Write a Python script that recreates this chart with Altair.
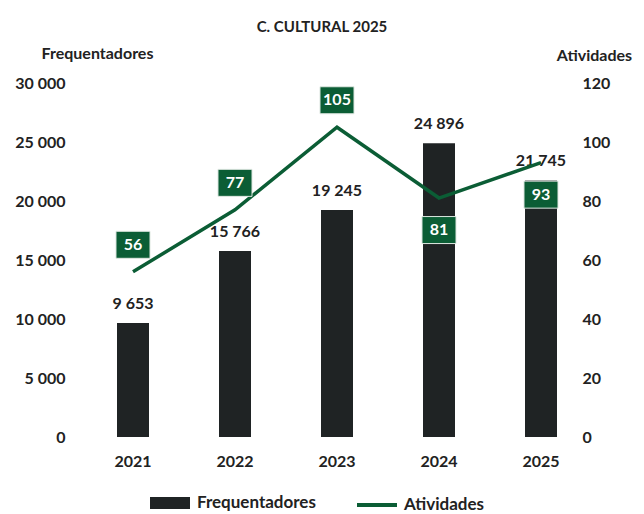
import altair as alt
import pandas as pd

anos = ["2021", "2022", "2023", "2024", "2025"]
frequentadores = [9653, 15766, 19245, 24896, 21745]
atividades = [56, 77, 105, 81, 93]

df = pd.DataFrame({"Ano": anos, "Frequentadores": frequentadores, "Atividades": atividades})

FONT = "Lato"
DARK = "#1f2324"
GREEN = "#0b5d35"
TXT = "#222222"

x = alt.X(
    "Ano:N", title=None,
    scale=alt.Scale(paddingInner=0.1),
    axis=alt.Axis(labelAngle=0, domain=False, ticks=False, labelPadding=16,
                  labelFont=FONT, labelFontSize=16, labelFontWeight="bold", labelColor=TXT),
)

yL = alt.Y(
    "Frequentadores:Q",
    scale=alt.Scale(domain=[0, 30000]),
    axis=alt.Axis(values=[0, 5000, 10000, 15000, 20000, 25000, 30000],
                  title="Frequentadores", titleAngle=0, titleX=15, titleY=-30,
                  titleAlign="center", titleBaseline="middle",
                  titleFont=FONT, titleFontSize=16, titleFontWeight="bold", titleColor=TXT,
                  grid=False, domain=False, ticks=False, labelPadding=17,
                  labelExpr="replace(format(datum.value, ',d'), ',', ' ')",
                  labelFont=FONT, labelFontSize=16, labelFontWeight="bold", labelColor=TXT),
)

yR = alt.Y(
    "Atividades:Q",
    scale=alt.Scale(domain=[0, 120]),
    axis=alt.Axis(orient="right", values=[0, 20, 40, 60, 80, 100, 120],
                  title="Atividades", titleAngle=0, titleX=2, titleY=-28,
                  titleAlign="center", titleBaseline="middle",
                  titleFont=FONT, titleFontSize=16, titleFontWeight="bold", titleColor=TXT,
                  grid=False, domain=False, ticks=False, labelPadding=-10,
                  labelFont=FONT, labelFontSize=16, labelFontWeight="bold", labelColor=TXT),
)

base = alt.Chart(df).encode(x=x)

bars = base.transform_calculate(serie="'Frequentadores'").mark_bar(size=32).encode(
    y=yL,
    color=alt.Color("serie:N", scale=alt.Scale(domain=["Frequentadores"], range=[DARK]),
                    legend=alt.Legend(orient="none", legendX=68, legendY=400, title=None,
                                      direction="horizontal", padding=0,
                                      symbolType="M-1,-0.3H1V0.3H-1Z", symbolSize=1600,
                                      symbolStrokeWidth=0, labelOffset=7,
                                      labelFont=FONT, labelFontSize=17, labelFontWeight="bold",
                                      labelColor=TXT)),
)

bar_text = base.transform_calculate(
    lbl="replace(format(datum.Frequentadores, ',d'), ',', ' ')"
).mark_text(font=FONT, fontSize=16, fontWeight="bold", color=TXT, dy=-19, baseline="middle").encode(
    y=yL, text="lbl:N"
)

left = alt.layer(bars, bar_text)

line = base.transform_calculate(serie2="'Atividades'").mark_line(strokeWidth=3.5).encode(
    y=yR,
    stroke=alt.Stroke("serie2:N", scale=alt.Scale(domain=["Atividades"], range=[GREEN]),
                      legend=alt.Legend(orient="none", legendX=273, legendY=400, title=None,
                                        direction="horizontal", padding=0,
                                        symbolType="stroke", symbolSize=1600,
                                        symbolStrokeWidth=4, labelOffset=5,
                                        labelFont=FONT, labelFontSize=17, labelFontWeight="bold",
                                        labelColor=TXT)),
)

BOX = "M-1.26,-1H1.26V1H-1.26Z"

def box_layer(cond, off):
    b = base.transform_filter(cond).mark_point(
        shape=BOX, size=729, filled=True, opacity=1, color=GREEN,
        stroke="#dfe8e2", strokeWidth=1, yOffset=off
    ).encode(y=yR)
    t = base.transform_filter(cond).mark_text(
        font=FONT, fontSize=16, fontWeight="bold", color="white", yOffset=off, baseline="middle"
    ).encode(y=yR, text="Atividades:Q")
    return [b, t]

above = box_layer("datum.Ano < '2024'", -27)
below = box_layer("datum.Ano >= '2024'", 32)

right = alt.layer(line, *above, *below)

chart = alt.layer(left, right).resolve_scale(y="independent", color="independent").properties(
    width=510, height=354,
    title=alt.TitleParams("C. CULTURAL 2025", font=FONT, fontSize=15, fontWeight="bold",
                          color=TXT, anchor="middle", offset=10, dx=-15),
    padding={"left": 74, "top": 75, "right": 44, "bottom": 77},
    autosize=alt.AutoSizeParams(type="none"),
    background="white",
).configure_view(stroke=None)

chart.save("out.html", embed_options={"renderer": "svg", "actions": False})
